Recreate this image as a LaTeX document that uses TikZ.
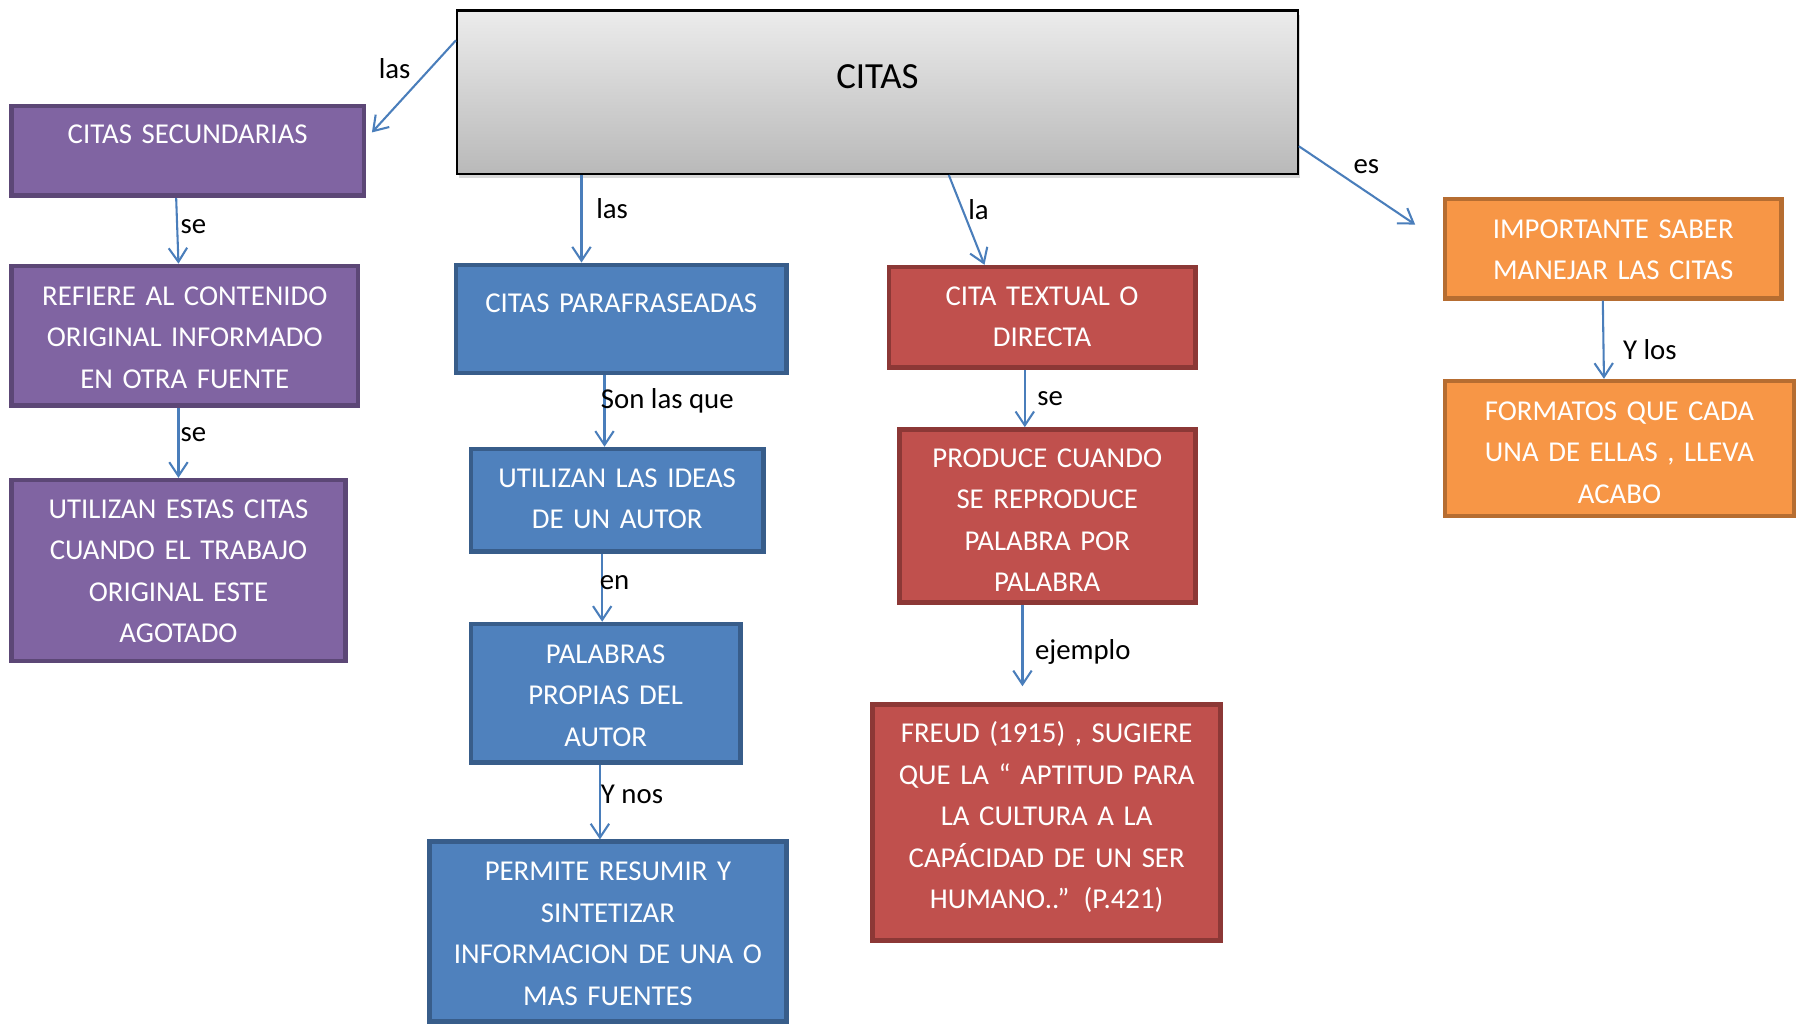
\documentclass[tikz,border=0pt]{standalone}
\usepackage{fontspec}
\setmainfont{Carlito}
\usetikzlibrary{arrows.meta,shadows}

\definecolor{morado}{RGB}{128,100,162}
\definecolor{moradoborde}{RGB}{92,71,118}
\definecolor{azul}{RGB}{79,129,189}
\definecolor{azulborde}{RGB}{56,93,138}
\definecolor{rojo}{RGB}{192,80,77}
\definecolor{rojoborde}{RGB}{140,56,54}
\definecolor{naranja}{RGB}{247,150,70}
\definecolor{naranjaborde}{RGB}{182,109,49}
\definecolor{azulflecha}{RGB}{74,126,187}

\begin{document}
\begin{tikzpicture}[x=1pt, y=-1pt,
    caja/.style={draw, line width=4pt, inner sep=0pt, align=center, text=white,
        text height=33pt, font=\fontsize{25}{36}\selectfont},
    morada/.style={caja, fill=morado, draw=moradoborde},
    azulada/.style={caja, fill=azul, draw=azulborde},
    roja/.style={caja, fill=rojo, draw=rojoborde},
    naranjada/.style={caja, fill=naranja, draw=naranjaborde},
    titulo/.style={draw=black, line width=2pt, inner sep=0pt, align=center,
        top color=gray!15, bottom color=gray!55, font=\fontsize{32}{38}\selectfont,
        drop shadow={shadow xshift=2pt, shadow yshift=-4pt, opacity=0.3}},
    enlace/.style={azulflecha, line width=1.8pt, -{Straight Barb[length=12pt,width=16pt]}},
    etiqueta/.style={inner sep=0pt, text=black, font=\fontsize{25}{30}\selectfont}]
    \useasboundingbox (0,0) rectangle (1565,890);

    % cajas
    \node[titulo, text width=730pt, text height=68pt, text depth=74pt] (citas) at (762,80) {CITAS};

    \node[morada, text width=306pt, text depth=45pt] (secund) at (163,131) {CITAS SECUNDARIAS};
    \node[morada, text width=301pt, text height=34pt, text depth=87pt] (refiere) at (160.5,291.5)
        {REFIERE AL CONTENIDO\\ORIGINAL INFORMADO\\EN OTRA FUENTE};
    \node[morada, text width=290pt, text depth=124pt] (estas) at (155,495.5)
        {UTILIZAN ESTAS CITAS\\CUANDO EL TRABAJO\\ORIGINAL ESTE\\AGOTADO};

    \node[azulada, text width=287pt, text height=41pt, text depth=53pt] (parafr) at (539.5,277) {CITAS PARAFRASEADAS};
    \node[azulada, text width=254pt, text depth=56pt] (ideas) at (536,434.5)
        {UTILIZAN LAS IDEAS\\DE UN AUTOR};
    \node[azulada, text width=234pt, text height=34pt, text depth=86pt] (palabras) at (526,602)
        {PALABRAS\\PROPIAS DEL\\AUTOR};
    \node[azulada, text width=310pt, text height=34pt, text depth=122pt] (permite) at (528,809)
        {PERMITE RESUMIR Y\\SINTETIZAR\\INFORMACION DE UNA O\\MAS FUENTES};

    \node[roja, text width=266pt, text depth=54pt] (textual) at (905,275.5)
        {CITA TEXTUAL O\\DIRECTA};
    \node[roja, text width=257pt, text depth=117pt] (produce) at (909.5,448)
        {PRODUCE CUANDO\\SE REPRODUCE\\PALABRA POR\\PALABRA};
    \node[roja, text width=302pt, text depth=172pt] (freud) at (909,714.5)
        {FREUD (1915) , SUGIERE\\QUE LA “ APTITUD PARA\\LA CULTURA A LA\\CAPÁCIDAD DE UN SER\\HUMANO..” (P.421)};

    \node[naranjada, text width=292pt, text height=34pt, text depth=52pt] (importante) at (1401,216)
        {IMPORTANTE SABER\\MANEJAR LAS CITAS};
    \node[naranjada, text width=303pt, text height=34pt, text depth=83pt] (formatos) at (1406.5,389.5)
        {FORMATOS QUE CADA\\UNA DE ELLAS , LLEVA\\ACABO};

    % flechas
    \draw[enlace] ([yshift=-27pt]citas.north west) -- node[etiqueta, pos=.31, left=16pt] (las1) {las}
        ([xshift=5pt,yshift=-25pt]secund.north east);
    \draw[enlace] ([xshift=-10pt]secund.south) -- node[etiqueta, pos=.44, right=2pt] (se1) {se}
        ([xshift=-5.5pt]refiere.north);
    \draw[enlace] ([xshift=-5.5pt]refiere.south) -- node[etiqueta, pos=.39, right=1pt] (se2) {se}
        (estas.north);

    \draw[enlace] ([xshift=109pt]citas.south west) -- node[etiqueta, pos=.38, right=12pt] (las2) {las}
        ([xshift=-34.5pt]parafr.north);
    \draw[enlace] ([xshift=-14.5pt]parafr.south) -- node[etiqueta, pos=.36, right=-4pt] (son) {Son las que}
        ([xshift=-11pt]ideas.north);
    \draw[enlace] ([xshift=-13pt]ideas.south) -- node[etiqueta, pos=.42, right=-3pt] (en) {en}
        ([xshift=-3pt]palabras.north);
    \draw[enlace] ([xshift=-5pt]palabras.south) -- node[etiqueta, pos=.4, right=0pt] (ynos) {Y nos}
        ([xshift=-7pt]permite.north);

    \draw[enlace] ([xshift=428pt]citas.south west) -- node[etiqueta, pos=.39, right=4pt] (la) {la}
        ([xshift=-50pt]textual.north);
    \draw[enlace] ([xshift=-15pt]textual.south) -- node[etiqueta, pos=.5, right=10pt] (se3) {se}
        ([xshift=-19.5pt]produce.north);
    \draw[enlace, shorten >=14pt] ([xshift=-21.5pt]produce.south) -- node[etiqueta, pos=.49, right=10pt] (ejemplo) {ejemplo}
        ([xshift=-21pt]freud.north);

    \draw[enlace] ([yshift=25pt]citas.south east) -- node[etiqueta, pos=.58, above=15pt] (es) {es}
        ([xshift=-24pt,yshift=-24pt]importante.north west);
    \draw[enlace] ([xshift=-9pt]importante.south) -- node[etiqueta, pos=.63, right=16pt] (ylos) {Y los}
        ([xshift=-13.5pt]formatos.north);
\end{tikzpicture}
\end{document}
